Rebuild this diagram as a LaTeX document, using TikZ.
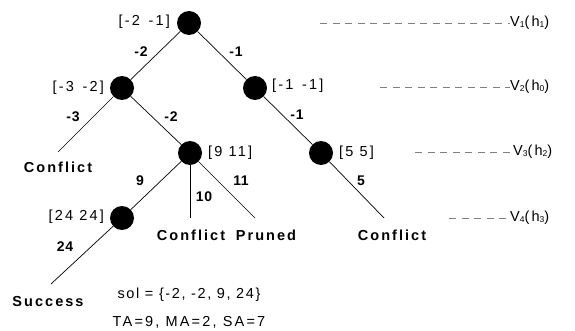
\documentclass[tikz,border=0pt]{standalone}
\usepackage{fontspec}
\setmainfont{Liberation Sans}
\newfontfamily\lblfont[LetterSpace=15]{Liberation Sans}
\newfontfamily\solfont[LetterSpace=11]{Liberation Sans}
\newfontfamily\edgefont[LetterSpace=5]{Liberation Sans}
\newfontfamily\leaffont[LetterSpace=14]{Liberation Sans}
\newcommand{\sbs}[1]{\raisebox{-1pt}{\fontsize{8.5}{8.5}\selectfont #1}}
\begin{document}
\begin{tikzpicture}[x=1pt,y=-1pt,
  vert/.style={circle,fill=black,minimum size=24pt,inner sep=0pt},
  edge/.style={draw=black,line width=0.7pt},
  val/.style={font=\lblfont\fontsize{14.5}{16}\selectfont,inner sep=0pt},
  soltxt/.style={font=\solfont\fontsize{14.5}{16}\selectfont,inner sep=0pt},
  elab/.style={font=\edgefont\bfseries\fontsize{14}{16}\selectfont,inner sep=0pt},
  leaf/.style={font=\leaffont\bfseries\fontsize{14.5}{16}\selectfont,inner sep=0pt},
  lvl/.style={draw=gray,dash pattern=on 7pt off 5.5pt,line width=0.6pt},
  lvltxt/.style={font=\lblfont\fontsize{14.5}{16}\selectfont,inner sep=0pt,anchor=west}]
\useasboundingbox (0,0) rectangle (575,331);
% vertices
\node[vert] (r) at (189,23) {};
\node[vert] (a) at (122,88) {};
\node[vert] (b) at (255,88) {};
\node[vert] (c) at (190,153) {};
\node[vert] (d) at (321,153) {};
\node[vert] (e) at (122,218) {};
\coordinate (l1) at (58,152);
\coordinate (l2) at (190,218);
\coordinate (l3) at (255,218);
\coordinate (l4) at (384,218);
\coordinate (l5) at (51,284);
% edges
\draw[edge] (r) -- (a);
\draw[edge] (r) -- (b);
\draw[edge] (a) -- (l1);
\draw[edge] (a) -- (c);
\draw[edge] (b) -- (d);
\draw[edge] (c) -- (e);
\draw[edge] (c) -- (l2);
\draw[edge] (c) -- (l3);
\draw[edge] (d) -- (l4);
\draw[edge] (e) -- (l5);
% vertex value labels
\node[val,anchor=east] (vr) at (170,22) {[-2 \,-1]};
\node[val,anchor=east] (va) at (104,88) {[-3 \,-2]};
\node[val,anchor=west] (vb) at (272,86) {[-1 \,-1]};
\node[val,anchor=west] (vc) at (208,153) {[9 11]};
\node[val,anchor=west] (vd) at (339,153) {[5 5]};
\node[val,anchor=east] (ve) at (104,217) {[24 24]};
% edge labels
\node[elab] (e1) at (141,52) {-2};
\node[elab] (e2) at (236,52) {-1};
\node[elab] (e3) at (73,117) {-3};
\node[elab] (e4) at (171,117) {-2};
\node[elab] (e5) at (297,115) {-1};
\node[elab] (e6) at (140,181) {9};
\node[elab] (e7) at (204,197) {10};
\node[elab] (e8) at (241,181) {11};
\node[elab] (e9) at (361,181) {5};
\node[elab] (e10) at (65,247) {24};
% leaf labels
\node[leaf] (t1) at (58,167) {Conflict};
\node[leaf] (t2) at (191,235) {Conflict};
\node[leaf] (t3) at (266,235) {Pruned};
\node[leaf] (t4) at (392,235) {Conflict};
\node[leaf] (t5) at (48,302) {Success};
% solution text
\node[soltxt] (sol) at (189,295) {sol = \{-2, -2, 9, 24\}};
\node[val] (ta) at (189,322) {TA=9, MA=2, SA=7};
% level markers
\coordinate (s1) at (320,23);
\coordinate (s2) at (380,87);
\coordinate (s3) at (415,152);
\coordinate (s4) at (449,218);
\node[lvltxt] (v1) at (510,23) {V\sbs{1}(h\sbs{1})};
\node[lvltxt] (v2) at (510,87) {V\sbs{2}(h\sbs{0})};
\node[lvltxt] (v3) at (513,152) {V\sbs{3}(h\sbs{2})};
\node[lvltxt] (v4) at (510,218) {V\sbs{4}(h\sbs{3})};
\draw[lvl] (s1) -- (v1.west);
\draw[lvl] (s2) -- (v2.west);
\draw[lvl] (s3) -- (v3.west);
\draw[lvl] (s4) -- ([xshift=-3pt]v4.west);
\end{tikzpicture}
\end{document}
